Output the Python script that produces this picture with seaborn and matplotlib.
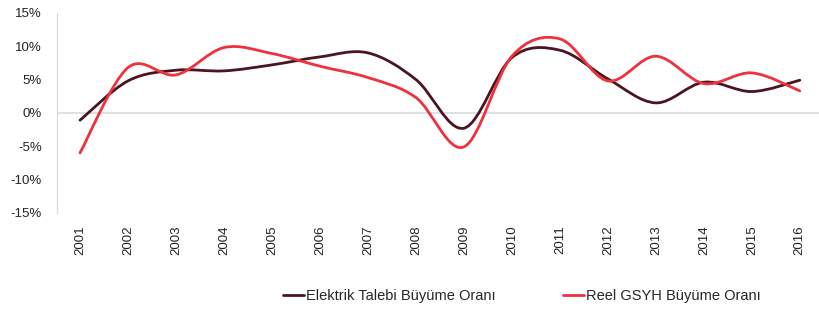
import matplotlib
matplotlib.use("Agg")
import matplotlib.pyplot as plt
from matplotlib.path import Path
from matplotlib.patches import PathPatch
from matplotlib.lines import Line2D
import numpy as np
import seaborn as sns

sns.set_style('white')
plt.rcParams['font.family'] = ['Liberation Sans', 'DejaVu Sans']

years = list(range(2001, 2017))
elektrik = [-1.1, 4.8, 6.4, 6.3, 7.2, 8.4, 9.0, 5.0, -2.3, 8.3, 9.4, 5.1, 1.5, 4.6, 3.2, 4.9]
gsyh = [-6.0, 6.8, 5.7, 9.8, 8.9, 7.0, 5.3, 2.3, -5.1, 8.5, 11.1, 4.8, 8.5, 4.4, 6.0, 3.3]

labels = ['Elektrik Talebi Büyüme Oranı', 'Reel GSYH Büyüme Oranı']
colors = ['#4a1420', '#f0303c']
yticks = [-15, -10, -5, 0, 5, 10, 15]


def smooth_path(x, y):
    # Excel-like smoothed line: Catmull-Rom segments as cubic Bezier curves
    x = np.asarray(x, float)
    y = np.asarray(y, float)
    px = np.r_[x[0], x, x[-1]]
    py = np.r_[y[0], y, y[-1]]
    verts = [(x[0], y[0])]
    codes = [Path.MOVETO]
    for i in range(1, len(px) - 2):
        c1 = (px[i] + (px[i + 1] - px[i - 1]) / 6, py[i] + (py[i + 1] - py[i - 1]) / 6)
        c2 = (px[i + 1] - (px[i + 2] - px[i]) / 6, py[i + 1] - (py[i + 2] - py[i]) / 6)
        verts += [c1, c2, (px[i + 1], py[i + 1])]
        codes += [Path.CURVE4] * 3
    return Path(verts, codes)


fig = plt.figure(figsize=(8.19, 3.14), dpi=100)
ax = fig.add_axes([0.0696, 0.322, 0.9304, 0.637])

for vals, lab, col in zip([elektrik, gsyh], labels, colors):
    # raw points through seaborn (invisible), smoothed curve on top
    sns.lineplot(x=years, y=vals, ax=ax, color=col, linewidth=0, legend=False)
    ax.add_patch(PathPatch(smooth_path(years, vals), facecolor='none',
                           edgecolor=col, linewidth=2.0, capstyle='round'))

ax.set_xlim(2000.52, 2016.4)
ax.set_ylim(-15, 15)
ax.set_yticks(yticks)
ax.set_yticklabels([f'{t}%' for t in yticks], fontsize=9.5, color='#222222')
ax.set_xticks(years)
ax.set_xticklabels([str(y) for y in years], rotation=90, fontsize=9.5, color='#222222')
ax.tick_params(axis='x', length=0, pad=9)
ax.tick_params(axis='y', length=0, pad=11)

ax.axhline(0, color='#d8dde3', linewidth=1.2, zorder=0)
for s in ['top', 'right', 'bottom']:
    ax.spines[s].set_visible(False)
ax.spines['left'].set_color('#d8d8d8')
ax.spines['left'].set_linewidth(0.8)

handles = [Line2D([], [], color=c, linewidth=2) for c in colors]
fig.legend(handles, labels, loc='center left', bbox_to_anchor=(0.345, 0.058),
           ncol=2, frameon=False, fontsize=10.5, handlelength=1.5,
           handletextpad=0.1, columnspacing=4.6, borderaxespad=0, borderpad=0)

fig.savefig('out.png', dpi=100, facecolor='white')
